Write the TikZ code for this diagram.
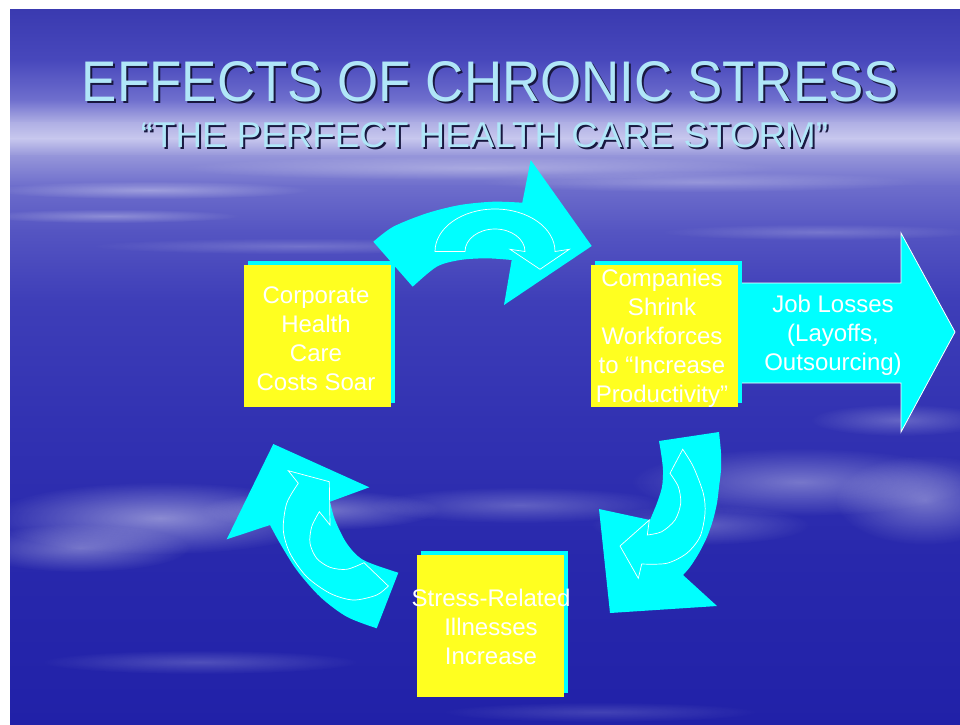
\documentclass[tikz,border=0pt]{standalone}
\usepackage{graphicx}
\usepackage{fontspec}
\setmainfont{Liberation Sans}
\usetikzlibrary{shadows,fadings}

% palette
\definecolor{aqua}{RGB}{0,255,255}
\definecolor{boxyellow}{RGB}{255,255,32}
\definecolor{titleblue}{RGB}{176,230,248}
\definecolor{titleshade}{RGB}{24,24,64}
% sky gradient stops, top to bottom
\definecolor{skA}{RGB}{58,58,176}
\definecolor{skB}{RGB}{72,72,188}
\definecolor{skC}{RGB}{112,112,206}
\definecolor{skD}{RGB}{175,175,228}
\definecolor{skE}{RGB}{200,200,238}
\definecolor{skF}{RGB}{150,150,218}
\definecolor{skG}{RGB}{110,110,204}
\definecolor{skH}{RGB}{85,85,194}
\definecolor{skI}{RGB}{62,62,184}
\definecolor{skJ}{RGB}{50,50,178}
\definecolor{skK}{RGB}{40,40,172}
\definecolor{skL}{RGB}{33,33,168}

\tikzfading[name=cloudfade, inner color=transparent!0, outer color=transparent!100]

% heading text stretched to a given width and height, with a dark drop shadow
\newcommand{\headtext}[3]{%
  \makebox[0pt][l]{\hspace*{2pt}\raisebox{-2pt}{\textcolor{titleshade}{\resizebox{#1}{#2}{#3}}}}%
  \textcolor{titleblue}{\resizebox{#1}{#2}{#3}}}

\begin{document}
\begin{tikzpicture}[x=1pt,y=-1pt,
  card/.style={fill=boxyellow, minimum width=147pt, minimum height=142pt, inner sep=0pt,
    general shadow={shadow xshift=4pt, shadow yshift=4pt, fill=aqua}},
  cardtext/.style={text=white, align=center, inner sep=0pt, font=\fontsize{24}{29}\selectfont},
  cloud/.style={fill=white, path fading=cloudfade},
  swirl/.style={fill=aqua},
  inset/.style={draw=white, line width=0.7pt, line join=miter},
  headline/.style={inner sep=0pt}]

\useasboundingbox (0,0) rectangle (960,724);
\fill[white] (0,0) rectangle (960,724);

% sky background
\shade[top color=skA, bottom color=skB] (10,9) rectangle (960,61);
\shade[top color=skB, bottom color=skC] (10,60) rectangle (960,101);
\shade[top color=skC, bottom color=skD] (10,100) rectangle (960,123);
\shade[top color=skD, bottom color=skE] (10,122) rectangle (960,139);
\shade[top color=skE, bottom color=skF] (10,138) rectangle (960,156);
\shade[top color=skF, bottom color=skG] (10,155) rectangle (960,186);
\shade[top color=skG, bottom color=skH] (10,185) rectangle (960,231);
\shade[top color=skH, bottom color=skI] (10,230) rectangle (960,301);
\shade[top color=skI, bottom color=skJ] (10,300) rectangle (960,421);
\shade[top color=skJ, bottom color=skK] (10,420) rectangle (960,561);
\shade[top color=skK, bottom color=skL] (10,560) rectangle (960,724);

% cloud wisps
\begin{scope}
\clip (10,9) rectangle (960,724);
\fill[cloud, opacity=.35] (150,190) ellipse (160pt and 9pt);
\fill[cloud, opacity=.3] (110,216) ellipse (130pt and 7pt);
\fill[cloud, opacity=.25] (700,182) ellipse (220pt and 10pt);
\fill[cloud, opacity=.2] (300,246) ellipse (210pt and 8pt);
\fill[cloud, opacity=.2] (820,232) ellipse (160pt and 8pt);
\fill[cloud, opacity=.3] (480,168) ellipse (300pt and 12pt);
\fill[cloud, opacity=.45] (160,518) ellipse (170pt and 36pt);
\fill[cloud, opacity=.35] (80,548) ellipse (110pt and 24pt);
\fill[cloud, opacity=.35] (320,510) ellipse (120pt and 20pt);
\fill[cloud, opacity=.25] (520,505) ellipse (150pt and 18pt);
\fill[cloud, opacity=.35] (800,482) ellipse (170pt and 34pt);
\fill[cloud, opacity=.35] (925,500) ellipse (90pt and 45pt);
\fill[cloud, opacity=.25] (700,525) ellipse (110pt and 20pt);
\fill[cloud, opacity=.25] (900,420) ellipse (90pt and 16pt);
\fill[cloud, opacity=.2] (200,662) ellipse (160pt and 12pt);
\fill[cloud, opacity=.15] (600,712) ellipse (160pt and 10pt);
\end{scope}

% headings
\node[headline] (title) at (490.5,83) {\headtext{817pt}{40pt}{EFFECTS OF CHRONIC STRESS}};
\node[headline] (subtitle) at (484.5,136.5) {\headtext{687pt}{25pt}{“THE PERFECT HEALTH CARE STORM”}};

% curved arrow: costs -> companies
\fill[swirl] plot[smooth] coordinates {(373.3,241.7) (393.3,226.7) (426.7,213.3) (460,205) (493.3,201.7) (522.3,202.7)}
  -- (530.7,160) -- (591.7,246) -- (504,305)
  -- plot[smooth] coordinates {(511.7,260) (486.7,258.3) (460,260) (436.7,266.7) (412.7,286.7)} -- cycle;
\draw[inset] (435,251.5) arc[start angle=180, end angle=0, x radius=60pt, y radius=42.5pt]
  -- (569.3,249.3) -- (540,269.3) -- (510,249.3) -- (525,251.5)
  arc[start angle=0, end angle=180, x radius=30pt, y radius=22.5pt] -- cycle;

% curved arrow: companies -> illnesses
\fill[swirl] plot[smooth] coordinates {(719,432) (721,453) (721,470) (719,487) (717,503) (713,520) (707,537) (699,553) (690,567) (683,575)}
  -- (717,606) -- (610,613) -- (599,509)
  -- plot[smooth] coordinates {(650,520) (657,503) (662,487) (663,470) (661,453) (659,441)} -- cycle;
\draw[inset] plot[smooth] coordinates {(682.7,449.3) (693.3,466.7) (703.3,493.3) (705,513.3) (700,536.7) (686.7,553.3) (666.7,563.3) (641.7,564)}
  -- (638.3,578.3) -- (620,546) -- (649.3,520) -- (647.3,535)
  -- plot[smooth] coordinates {(647.3,535) (661.7,531.7) (675,520) (680.7,503.3) (678.3,486.7) (670,473.3)} -- cycle;

% curved arrow: illnesses -> costs
\fill[swirl] plot[smooth] coordinates {(376.7,628.3) (346.7,616.7) (320,596.7) (296.7,570) (280,543.3) (270,525)}
  -- (226.7,539.3) -- (273.3,444) -- (369.3,487.3) -- (330,501.7)
  -- plot[smooth] coordinates {(330,501.7) (335,520) (346.7,543.3) (363.3,560) (398.3,572.7)} -- cycle;
\draw[inset] plot[smooth] coordinates {(388.3,586) (376.7,595) (353.3,600) (330,593.3) (306.7,576.7) (290,553.3) (283.3,530) (286.7,503.3) (298.3,483.3)}
  -- (288.3,470.7) -- (329.3,481.7) -- (330,525) -- (319.3,511.7)
  -- plot[smooth] coordinates {(319.3,511.7) (311.7,526.7) (310,543.3) (316.7,558.3) (330,567.3) (346.7,569.3) (364,562.7)} -- cycle;

% block arrow for job losses
\draw[white, line width=0.8pt, fill=aqua, line join=miter]
  (737,283) -- (901,283) -- (901,233) -- (955,332) -- (901,432) -- (901,383) -- (737,383) -- cycle;
\node[cardtext] (jobs) at (833,335) {Job Losses\\(Layoffs,\\Outsourcing)};

% stages
\node[card] (costs) at (317.5,335.5) {};
\node[cardtext] (coststext) at (316,338.5) {Corporate\\Health\\Care\\Costs Soar};
\node[card] (firms) at (664.5,336) {};
\node[cardtext] (firmstext) at (662,338) {Companies\\Shrink\\Workforces\\to “Increase\\Productivity”};
\node[card] (ills) at (490.5,626) {};
\node[cardtext] (illstext) at (491,626.5) {Stress-Related\\Illnesses\\Increase};

\end{tikzpicture}
\end{document}
